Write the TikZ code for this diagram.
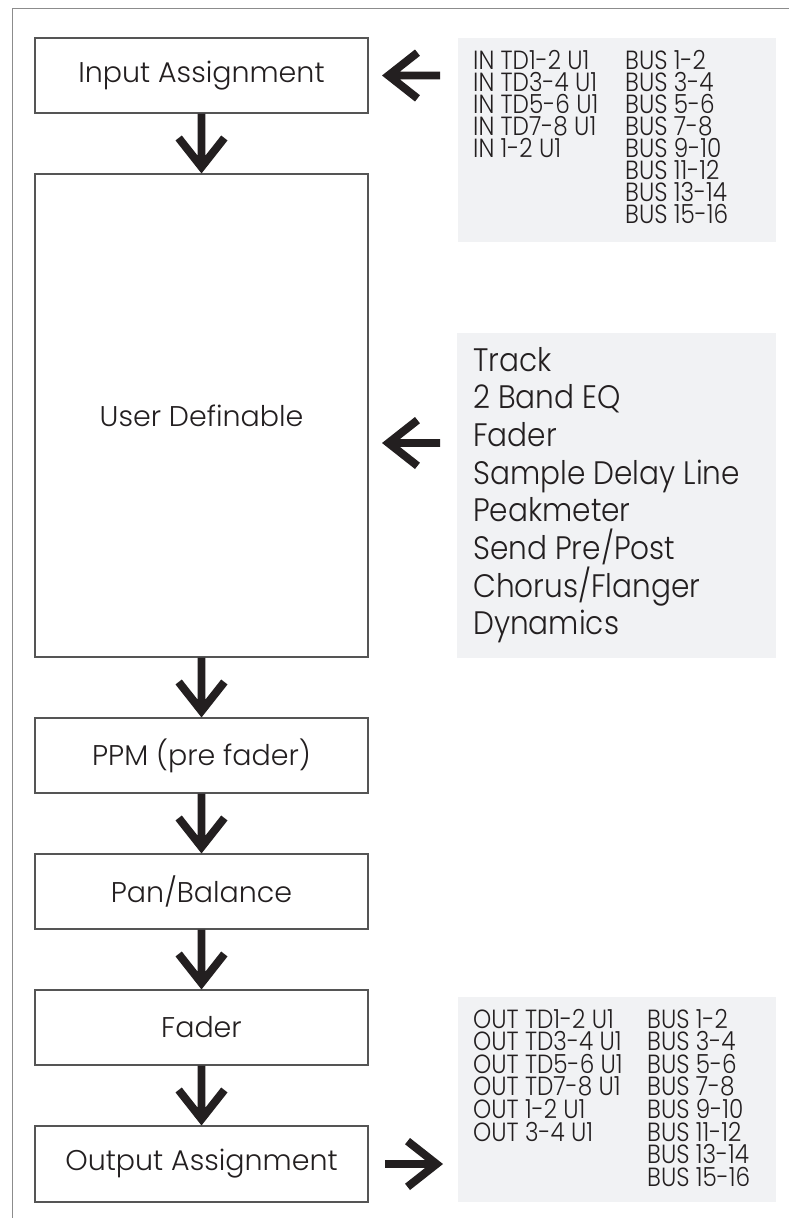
\documentclass[tikz,border=0pt]{standalone}
\usepackage{fontspec}
\setmainfont{Poppins}[UprightFont={* Light}]
\newfontfamily\narrowface{Poppins}[UprightFont={* Light}, FakeStretch=0.88]
\newfontfamily\fxface{Poppins}[UprightFont={* Light}, FakeStretch=0.91]
\usetikzlibrary{calc}

\definecolor{ink}{HTML}{231F20}
\definecolor{rule}{HTML}{555555}
\definecolor{framegray}{HTML}{8C8C8C}
\definecolor{panel}{HTML}{F1F2F4}

% Solid block arrow from #1 (tail) to #2 (tip): shaft 7.7 wide, open chevron head
\newcommand\blockarrow[2]{%
  \fill[ink] let \p1=(#1), \p2=(#2),
      \n1={atan2(\y1-\y2,\x1-\x2)}, \n2={veclen(\x1-\x2,\y1-\y2)} in
    {[shift={(\p2)}, rotate=\n1]
      (0,0) -- (33,26) -- (37.95,19.71) -- (17.8,3.85) -- (\n2,3.85)
      -- (\n2,-3.85) -- (17.8,-3.85) -- (37.95,-19.71) -- (33,-26) -- cycle};
}

% Column of lines with a fixed line pitch; its baseline is that of the first line
\newcommand\linestack[2]{%
  \vtop{\baselineskip=#1\lineskiplimit=-100pt\relax
    \def\\{\egroup\hbox\bgroup}\hbox\bgroup#2\egroup}}

\tikzset{
  stage/.style={draw=rule, line width=1.1pt, minimum width=333pt, inner sep=0pt,
    text=ink, font=\fontsize{28.5}{32}\selectfont},
  panelbox/.style={fill=panel, draw=none, inner sep=0pt},
  iolist/.style={anchor=base west, inner sep=0pt, text=ink,
    font=\narrowface\fontsize{26.3}{26}\selectfont},
  fxlist/.style={anchor=base west, inner sep=0pt, text=ink,
    font=\fxface\fontsize{32.5}{32}\selectfont},
}

\begin{document}
\begin{tikzpicture}[x=1pt, y=-1pt]
\useasboundingbox (0,0) rectangle (789,1218);
\fill[white] (0,0) rectangle (789,1218);

% outer frame
\draw[framegray, line width=1pt] (12,1218) -- (12,8) -- (789,8);

% processing chain
\node[stage, minimum height=75pt]  (in)    at (201.5,75.5)   {Input Assignment};
\node[stage, minimum height=483pt] (user)  at (201.5,415.5)  {User Definable};
\node[stage, minimum height=75pt]  (ppm)   at (201.5,755.5)  {PPM (pre fader)};
\node[stage, minimum height=75pt]  (pan)   at (201.5,891.5)  {Pan/Balance};
\node[stage, minimum height=75pt]  (fader) at (201.5,1027.5) {Fader};
\node[stage, minimum height=76pt]  (out)   at (201.5,1164)   {Output Assignment};

\blockarrow{in.south}{user.north}
\blockarrow{user.south}{ppm.north}
\blockarrow{ppm.south}{pan.north}
\blockarrow{pan.south}{fader.north}
\blockarrow{fader.south}{out.north}

% input sources
\node[panelbox, minimum width=318pt, minimum height=204pt] (inpanel) at (617,140) {};
\node[iolist] (insrc) at (473,69) {\linestack{22.1pt}{IN TD1-2 U1\\IN TD3-4 U1\\IN TD5-6 U1\\IN TD7-8 U1\\IN 1-2 U1}};
\node[iolist] (inbus) at (625,69) {\linestack{22.1pt}{BUS 1-2\\BUS 3-4\\BUS 5-6\\BUS 7-8\\BUS 9-10\\BUS 11-12\\BUS 13-14\\BUS 15-16}};
\coordinate (inTail) at (440,75.5);
\coordinate (inTip)  at (382,75.5);
\blockarrow{inTail}{inTip}

% insertable modules
\node[panelbox, minimum width=319pt, minimum height=325pt] (fxpanel) at (616.5,495.5) {};
\node[fxlist] (fx) at (473,371) {\linestack{37.7pt}{Track\\2 Band EQ\\Fader\\Sample Delay Line\\Peakmeter\\Send Pre/Post\\Chorus/Flanger\\Dynamics}};
\coordinate (fxTail) at (440,443);
\coordinate (fxTip)  at (382,443);
\blockarrow{fxTail}{fxTip}

% output destinations
\node[panelbox, minimum width=318pt, minimum height=205pt] (outpanel) at (617,1099.5) {};
\node[iolist] (outdst) at (473,1028) {\linestack{22.6pt}{OUT TD1-2 U1\\OUT TD3-4 U1\\OUT TD5-6 U1\\OUT TD7-8 U1\\OUT 1-2 U1\\OUT 3-4 U1}};
\node[iolist] (outbus) at (647,1028) {\linestack{22.6pt}{BUS 1-2\\BUS 3-4\\BUS 5-6\\BUS 7-8\\BUS 9-10\\BUS 11-12\\BUS 13-14\\BUS 15-16}};
\coordinate (outTail) at (385,1164);
\coordinate (outTip)  at (443,1164);
\blockarrow{outTail}{outTip}
\end{tikzpicture}
\end{document}
